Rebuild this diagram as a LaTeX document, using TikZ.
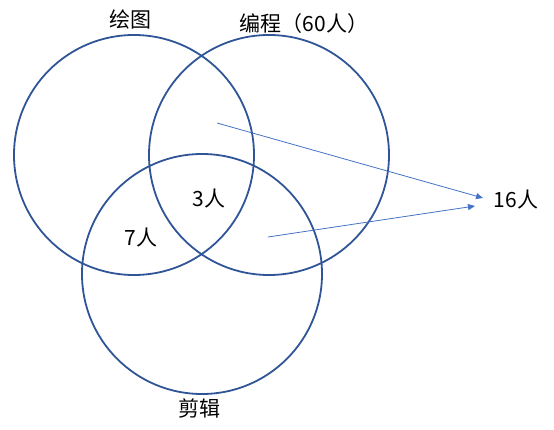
\documentclass[tikz,border=0pt]{standalone}
\usepackage{fontspec}
\setmainfont{Noto Sans CJK SC}
\usetikzlibrary{arrows.meta}
\definecolor{circ}{HTML}{2F5597}
\definecolor{arr}{HTML}{4472C4}
\begin{document}
\begin{tikzpicture}[x=1pt,y=-1pt,
  setc/.style={draw=circ,line width=1.8pt,circle,minimum size=240pt,inner sep=0pt},
  lbl/.style={font=\fontsize{21}{24}\selectfont,inner sep=0pt},
  arrline/.style={draw=arr,line width=0.8pt,-{Triangle[length=7pt,width=6pt]}}]
\useasboundingbox (0,0) rectangle (554,430);
\node[setc] (A) at (134,155) {};
\node[setc] (B) at (269,155) {};
\node[setc] (C) at (202,274) {};
\node[lbl] (la) at (130,20) {绘图};
\node[lbl] (lb) at (304,24) {编程（60人）};
\node[lbl] (lc) at (199,409) {剪辑};
\node[lbl] (l3) at (209,199) {3人};
\node[lbl] (l7) at (141,238) {7人};
\node[lbl] (l16) at (516,200) {16人};
\coordinate (s1) at (217,123);
\coordinate (e1) at (483,198);
\coordinate (s2) at (268,237);
\coordinate (e2) at (475,206);
\draw[arrline] (s1) -- (e1);
\draw[arrline] (s2) -- (e2);
\end{tikzpicture}
\end{document}
